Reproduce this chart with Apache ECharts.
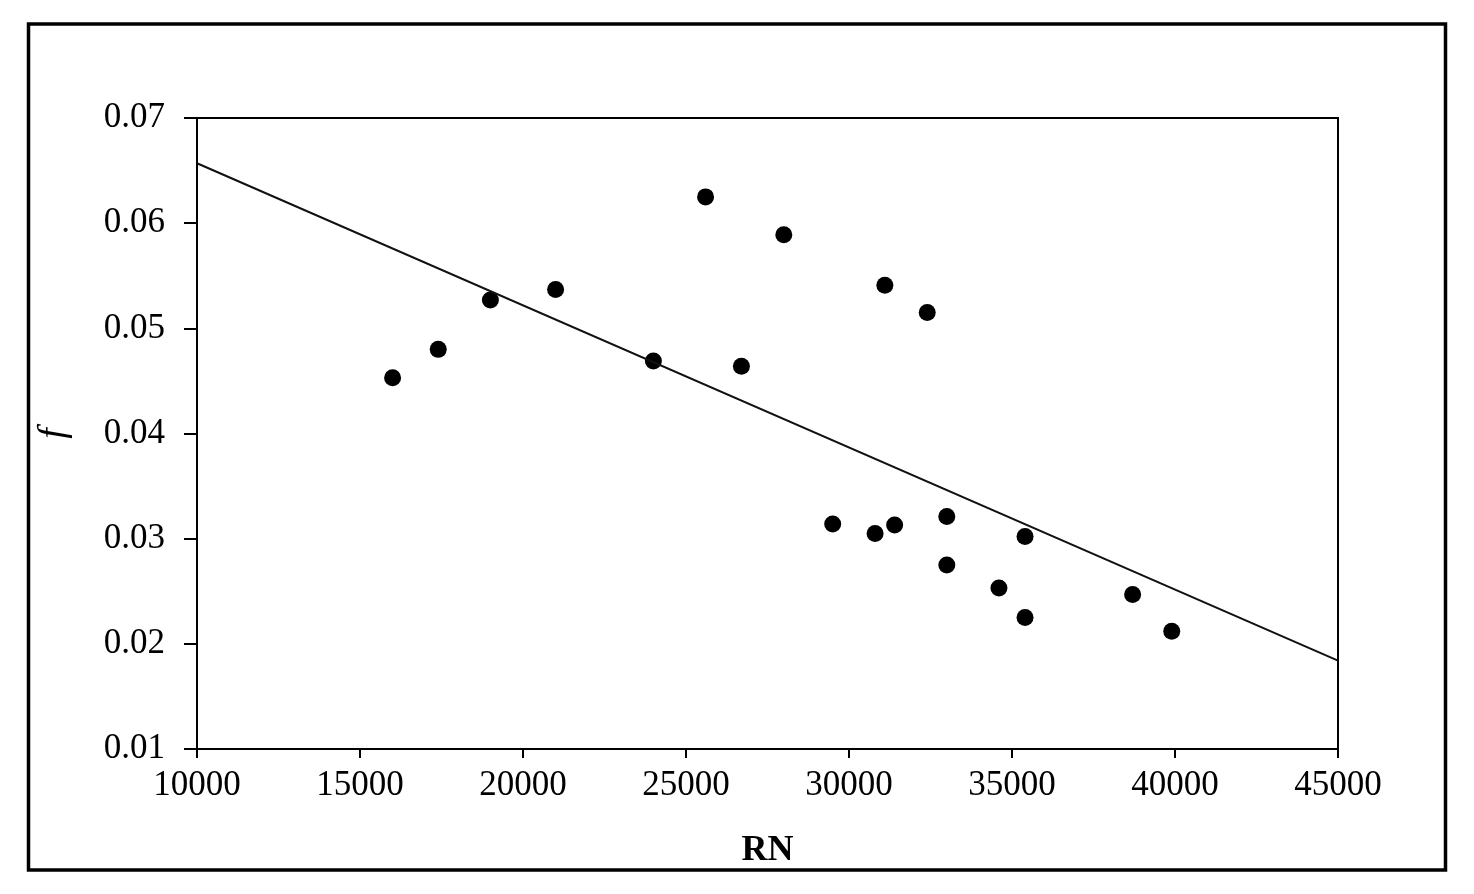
<!DOCTYPE html>
<html>
<head>
<meta charset="utf-8">
<script src="https://cdn.jsdelivr.net/npm/echarts@6/dist/echarts.min.js"></script>
<style>
  html, body { margin: 0; padding: 0; background: #fff; }
  #chart { width: 1474px; height: 894px; }
</style>
</head>
<body>
<div id="chart"></div>
<script>
// measured points (RN, f)
const rnValues = [16000, 17400, 19000, 21000, 24000, 25600, 26700, 28000, 31100, 32400,
                  29500, 30800, 31400, 33000, 33000, 35400, 34600, 35400, 38700, 39900];
const fValues = [0.0453, 0.0480, 0.0527, 0.0537, 0.0469, 0.0625, 0.0464, 0.0589, 0.0541, 0.0515,
                 0.0314, 0.0305, 0.0313, 0.0321, 0.0275, 0.0302, 0.0253, 0.0225, 0.0247, 0.0212];
// trend line ends
const trendRN = [10000, 45000];
const trendF = [0.0657, 0.0184];

const xTicks = [10000, 15000, 20000, 25000, 30000, 35000, 40000, 45000];
const yTicks = [0.01, 0.02, 0.03, 0.04, 0.05, 0.06, 0.07];

const myChart = echarts.init(document.getElementById('chart'));
const serif = '"Liberation Serif", "Times New Roman", serif';

const option = {
  animation: false,
  backgroundColor: '#fff',
  grid: {
    left: 197,
    right: 136,
    top: 118,
    bottom: 145,
    show: true,
    borderColor: '#000',
    borderWidth: 2
  },
  graphic: [{
    type: 'rect',
    shape: { x: 28.5, y: 24, width: 1417, height: 846 },
    style: { fill: 'none', stroke: '#000', lineWidth: 3.5 }
  }],
  xAxis: {
    type: 'value',
    min: xTicks[0],
    max: xTicks[xTicks.length - 1],
    interval: 5000,
    name: 'RN',
    nameLocation: 'middle',
    nameGap: 84,
    nameTextStyle: { fontFamily: serif, fontSize: 36, fontWeight: 'bold', color: '#000' },
    axisLine: { lineStyle: { color: '#000', width: 2 } },
    axisTick: { length: 9, lineStyle: { color: '#000', width: 2 } },
    splitLine: { show: false },
    axisLabel: {
      fontFamily: serif, fontSize: 35, color: '#000', margin: 19,
      formatter: function (v) { return String(v); }
    }
  },
  yAxis: {
    type: 'value',
    min: yTicks[0],
    max: yTicks[yTicks.length - 1],
    interval: 0.01,
    name: 'f',
    nameLocation: 'middle',
    nameGap: 124,
    nameRotate: 90,
    nameTextStyle: { fontFamily: serif, fontSize: 38, fontStyle: 'italic', color: '#000' },
    axisLine: { show: true, lineStyle: { color: '#000', width: 2 } },
    axisTick: { show: true, length: 13, lineStyle: { color: '#000', width: 2 } },
    splitLine: { show: false },
    axisLabel: {
      fontFamily: serif, fontSize: 35, color: '#000', margin: 32,
      formatter: function (v) { return v.toFixed(2); }
    }
  },
  series: [
    {
      name: 'points',
      type: 'scatter',
      symbol: 'circle',
      symbolSize: 17,
      itemStyle: { color: '#000', opacity: 1 },
      data: rnValues.map(function (x, i) { return [x, fValues[i]]; })
    },
    {
      name: 'trend',
      type: 'line',
      symbol: 'none',
      lineStyle: { color: '#111', width: 2 },
      data: trendRN.map(function (x, i) { return [x, trendF[i]]; })
    }
  ]
};

myChart.setOption(option);
window.addEventListener('resize', function () {
  myChart.resize();
});
</script>
</body>
</html>
